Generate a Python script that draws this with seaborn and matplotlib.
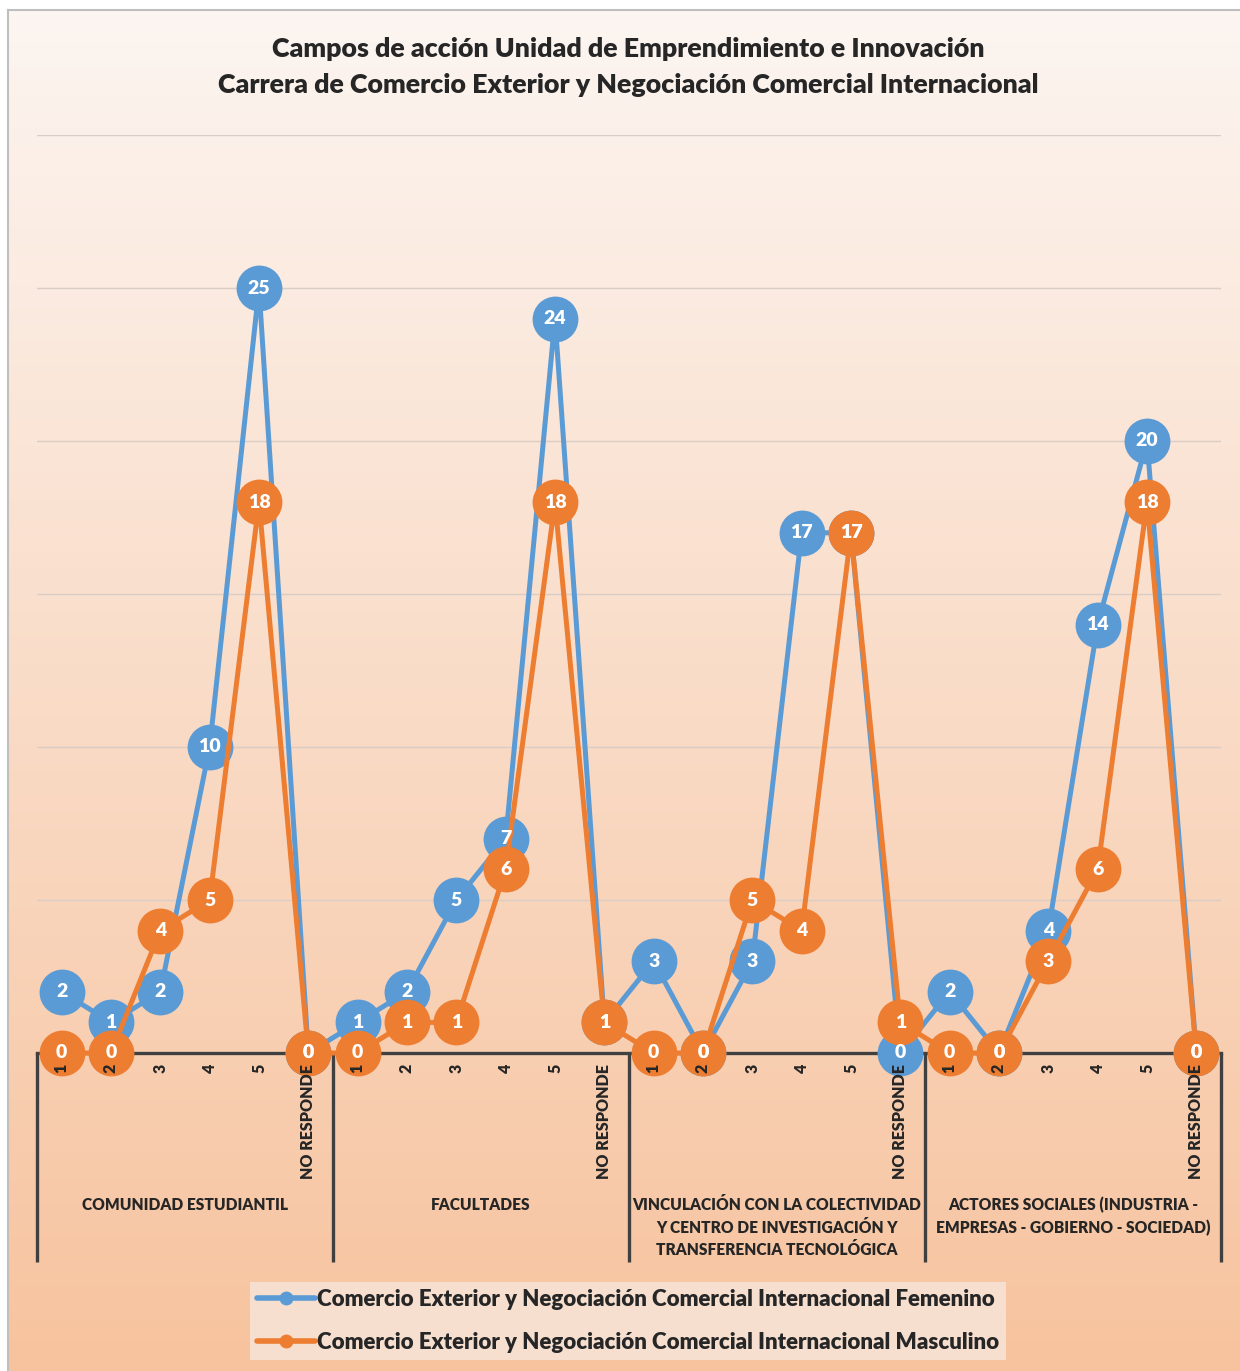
import numpy as np
import pandas as pd
import seaborn as sns
import matplotlib.pyplot as plt
from matplotlib.lines import Line2D

# data
grupos = ['COMUNIDAD ESTUDIANTIL',
          'FACULTADES',
          'VINCULACIÓN CON LA COLECTIVIDAD\nY CENTRO DE INVESTIGACIÓN Y\nTRANSFERENCIA TECNOLÓGICA',
          'ACTORES SOCIALES (INDUSTRIA -\nEMPRESAS - GOBIERNO - SOCIEDAD)']
niveles = ['1', '2', '3', '4', '5', 'NO RESPONDE']
femenino = [2, 1, 2, 10, 25, 0,
            1, 2, 5, 7, 24, 1,
            3, 0, 3, 17, 17, 0,
            2, 0, 4, 14, 20, 0]
masculino = [0, 0, 4, 5, 18, 0,
             0, 1, 1, 6, 18, 1,
             0, 0, 5, 4, 17, 1,
             0, 0, 3, 6, 18, 0]
serie_f = 'Comercio Exterior y Negociación Comercial Internacional Femenino'
serie_m = 'Comercio Exterior y Negociación Comercial Internacional Masculino'

azul = '#5B9BD5'
naranja = '#ED7D31'
peso = 800

sns.set_style('white')
plt.rcParams['font.family'] = ['Lato', 'DejaVu Sans']

n = len(femenino)
pos = list(range(n))
df = pd.DataFrame({'pos': pos * 2,
                   'valor': femenino + masculino,
                   'serie': [serie_f] * n + [serie_m] * n})

fig = plt.figure(figsize=(12.4, 13.71), dpi=100)
W, H = 1240, 1371

# gradient background with grey frame
bg = fig.add_axes([8 / W, 0, 1 - 8 / W, 1 - 10 / H], zorder=-5)
top = np.array([252, 245, 241]) / 255
bot = np.array([247, 195, 158]) / 255
t = np.linspace(0, 1, 256)[:, None]
grad = (top * (1 - t) + bot * t)[:, None, :]
bg.imshow(grad, aspect='auto', extent=[0, 1, 0, 1])
bg.set_xticks([])
bg.set_yticks([])
for s in ['right', 'bottom']:
    bg.spines[s].set_visible(False)
for s in ['left', 'top']:
    bg.spines[s].set_color('#bfbfbf')
    bg.spines[s].set_linewidth(1.5)

ax = fig.add_axes([37 / W, 1 - 1053 / H, (1221 - 37) / W, (1053 - 135) / H])
ax.set_facecolor('none')

sns.lineplot(data=df, x='pos', y='valor', hue='serie', sort=False,
             palette=[azul, naranja], marker='o', markersize=33,
             markeredgewidth=0, linewidth=3.6, legend=False, ax=ax)
for ln in ax.lines:
    ln.set_clip_on(False)
    ln.set_zorder(4)

for vals in [femenino, masculino]:
    for x, v in zip(pos, vals):
        ax.text(x, v, str(v), ha='center', va='center', color='white',
                fontsize=14, fontweight=peso, zorder=10)

ax.set_xlim(-0.5, n - 0.5)
ax.set_ylim(0, 30)
ax.set_yticks(range(0, 31, 5))
ax.set_yticklabels([])
ax.yaxis.grid(True, color='#d9cdc5', linewidth=1)
ax.set_xticks(pos)
ax.set_xticklabels(niveles * len(grupos), rotation=90, fontsize=11.5,
                   fontweight=peso)
ax.xaxis.set_zorder(12)
ax.tick_params(axis='both', length=0)
ax.tick_params(axis='x', pad=8)
ax.set_xlabel('')
ax.set_ylabel('')
for s in ['left', 'right', 'top']:
    ax.spines[s].set_visible(False)
ax.spines['bottom'].set_color('#404040')
ax.spines['bottom'].set_linewidth(2.4)
ax.spines['bottom'].set_zorder(3)

# group separators and labels
k = len(niveles)
ax.vlines([i * k - 0.5 for i in range(len(grupos) + 1)], -0.228, 0,
          transform=ax.get_xaxis_transform(), colors='#404040',
          linewidth=2.4, clip_on=False)
for i, g in enumerate(grupos):
    ax.text(i * k + (k - 1) / 2, -0.157, g, transform=ax.get_xaxis_transform(),
            ha='center', va='top', fontsize=11.2, fontweight=peso,
            linespacing=1.5)

fig.text(628 / W, 1 - 49 / H, 'Campos de acción Unidad de Emprendimiento e Innovación',
         ha='center', va='center', fontsize=19.3, fontweight=peso)
fig.text(628 / W, 1 - 85 / H, 'Carrera de Comercio Exterior y Negociación Comercial Internacional',
         ha='center', va='center', fontsize=19.3, fontweight=peso)

handles = [Line2D([], [], color=azul, lw=4, marker='o', markersize=9),
           Line2D([], [], color=naranja, lw=4, marker='o', markersize=9)]
leg = fig.legend(handles, [serie_f, serie_m], loc='center',
                 bbox_to_anchor=(628 / W, 1 - 1321 / H), frameon=True,
                 fancybox=False, facecolor='#f6dfcf', edgecolor='none',
                 prop={'size': 16, 'weight': peso}, handlelength=2.6,
                 handletextpad=0.1, labelspacing=1.0, borderpad=0.3)
leg.get_frame().set_alpha(1)

fig.savefig('out.png', dpi=100)
